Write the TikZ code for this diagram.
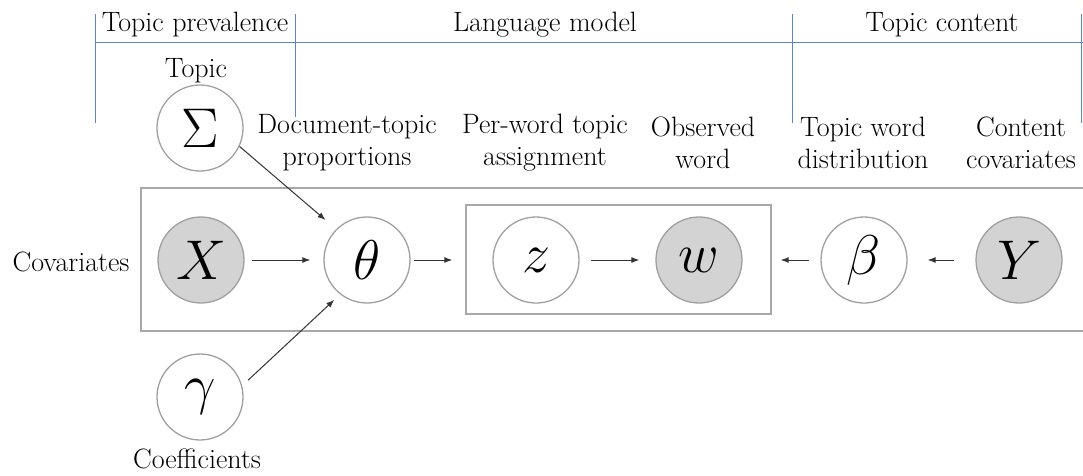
\documentclass[tikz,border=0pt]{standalone}
\usepackage{fontspec}
\usepackage{graphicx}
\usetikzlibrary{arrows.meta}
\definecolor{blueline}{HTML}{5B86C5}
\definecolor{nodegray}{HTML}{D3D3D3}
\definecolor{edgegray}{HTML}{A0A0A0}
\definecolor{boxgray}{HTML}{A8A8A8}
\newcommand{\bigsym}[1]{\scalebox{2.25}{$#1$}}
\begin{document}
\begin{tikzpicture}[x=1pt,y=-1pt,
  var/.style={circle, draw=edgegray, line width=1.3pt, minimum size=86pt, inner sep=0pt, font=\Huge},
  obs/.style={var, fill=nodegray},
  lbl/.style={font=\fontsize{28}{32}\selectfont, align=center, inner sep=0pt},
  arr/.style={-{Latex[length=8pt,width=6pt]}, line width=1pt, draw=black!80},
  sec/.style={draw=blueline, line width=0.9pt}]
\useasboundingbox (0,0) rectangle (1083,475);

% section header lines
\coordinate (h0) at (95,42);
\coordinate (h1) at (1083,42);
\draw[sec] (h0) -- (h1);
\coordinate (v1a) at (95,14);  \coordinate (v1b) at (95,123);
\coordinate (v2a) at (295,14); \coordinate (v2b) at (295,117);
\coordinate (v3a) at (792,14); \coordinate (v3b) at (792,123);
\coordinate (v4a) at (1081,14); \coordinate (v4b) at (1081,123);
\draw[sec] (v1a) -- (v1b);
\draw[sec] (v2a) -- (v2b);
\draw[sec] (v3a) -- (v3b);
\draw[sec] (v4a) -- (v4b);

\node[lbl, anchor=base] (tp) at (195,31) {Topic prevalence};
\node[lbl, anchor=base] (lm) at (545,31) {Language model};
\node[lbl, anchor=base] (tc) at (942,31) {Topic content};

% outer plate
\coordinate (o1) at (1090,188);
\coordinate (o2) at (141,188);
\coordinate (o3) at (141,331);
\coordinate (o4) at (1090,331);
\draw[draw=boxgray, line width=2.2pt] (o1) -- (o2) -- (o3) -- (o4);

% inner plate
\node[draw=boxgray, line width=1.4pt, minimum width=305pt, minimum height=109pt, inner sep=0pt] (plate) at (618.5,259.5) {};

% nodes
\node[var] (S) at (200,128) {\bigsym{\Sigma}};
\node[obs] (X) at (201,260) {\bigsym{X}};
\node[var] (th) at (367,260) {\bigsym{\theta}};
\node[var] (g) at (200,397) {\bigsym{\gamma}};
\node[var] (z) at (536,260) {\bigsym{z}};
\node[obs] (w) at (699,260) {\bigsym{w}};
\node[var] (b) at (864,260) {\bigsym{\beta}};
\node[obs] (Y) at (1019,260) {\bigsym{Y}};

% labels
\node[lbl, anchor=base] (ltopic) at (196,77) {Topic};
\node[lbl] (ldoc) at (347,143) {Document-topic\\proportions};
\node[lbl] (lper) at (545,143) {Per-word topic\\assignment};
\node[lbl] (lobs) at (703,143) {Observed\\word};
\node[lbl] (ltw) at (863,143) {Topic word\\distribution};
\node[lbl] (lcc) at (1021,143) {Content\\covariates};
\node[lbl, anchor=base] (lcov) at (71,271) {Covariates};
\node[lbl, anchor=base] (lcoef) at (197,468) {Coefficients};

% arrows
\draw[arr, shorten <=7pt, shorten >=13pt] (X) -- (th);
\draw[arr, shorten <=3pt, shorten >=13pt] (th.east) -- (plate.west |- th.east);
\draw[arr, shorten <=11pt, shorten >=16pt] (z) -- (w);
\draw[arr, shorten <=11pt, shorten >=9pt] (b.west) -- (plate.east |- b.west);
\draw[arr, shorten <=21pt, shorten >=20pt] (Y) -- (b);
\draw[arr, shorten >=14pt] (S.-25) -- (th.135);
\draw[arr, shorten <=8pt, shorten >=8pt] (g.15) -- (th.232);
\end{tikzpicture}
\end{document}
